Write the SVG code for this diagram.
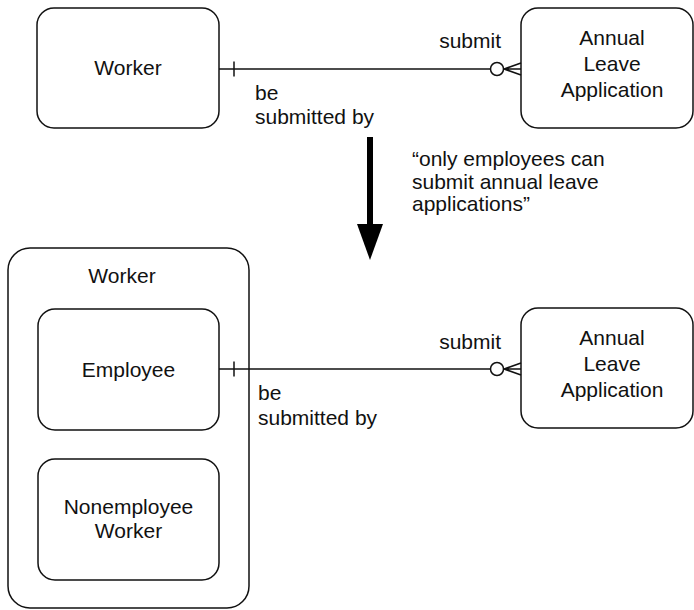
<svg xmlns="http://www.w3.org/2000/svg" width="694" height="610" viewBox="0 0 694 610">
  <style>
    .box { fill: #ffffff; stroke: #111111; stroke-width: 1.5; }
    .link { fill: none; stroke: #111111; stroke-width: 1.5; }
    .lbl { font-family: "Liberation Sans", Arial, Helvetica, sans-serif; font-size: 21px; fill: #111111; }
    .mid { text-anchor: middle; }
    .end { text-anchor: end; }
  </style>
  <rect width="694" height="610" fill="#ffffff"/>

  <!-- upper model: Worker submits Annual Leave Application -->
  <g id="worker-top">
    <rect class="box" x="37" y="8" width="182" height="120" rx="17" ry="17"/>
    <text class="lbl mid" x="128" y="75">Worker</text>
  </g>
  <g id="leave-top">
    <rect class="box" x="521" y="8" width="172" height="120" rx="17" ry="17"/>
    <text class="lbl mid" x="612" y="45">Annual</text>
    <text class="lbl mid" x="612" y="71">Leave</text>
    <text class="lbl mid" x="612" y="97">Application</text>
  </g>

  <!-- transformation arrow and its note -->
  <g id="refinement-arrow">
    <rect x="367" y="137" width="6" height="89" fill="#000000"/>
    <polygon points="357,224 383,224 370,260" fill="#000000"/>
  </g>
  <g id="rule-note">
    <text class="lbl" x="412" y="166">“only employees can</text>
    <text class="lbl" x="412" y="189">submit annual leave</text>
    <text class="lbl" x="412" y="211">applications”</text>
  </g>

  <!-- lower model: Worker subtypes -->
  <g id="worker-bottom">
    <rect class="box" x="8" y="248" width="241" height="360" rx="22" ry="22"/>
    <text class="lbl mid" x="122" y="283">Worker</text>
  </g>
  <g id="employee">
    <rect class="box" x="38" y="309" width="181" height="121" rx="17" ry="17"/>
    <text class="lbl mid" x="128.5" y="377">Employee</text>
  </g>
  <g id="nonemployee">
    <rect class="box" x="38" y="459" width="181" height="121" rx="17" ry="17"/>
    <text class="lbl mid" x="128.5" y="514">Nonemployee</text>
    <text class="lbl mid" x="128.5" y="538">Worker</text>
  </g>
  <g id="leave-bottom">
    <rect class="box" x="521" y="308" width="172" height="120" rx="17" ry="17"/>
    <text class="lbl mid" x="612" y="345">Annual</text>
    <text class="lbl mid" x="612" y="371">Leave</text>
    <text class="lbl mid" x="612" y="397">Application</text>
  </g>

  <!-- relationships: one (bar) to zero-or-many (circle + crow's foot) -->
  <g id="connectors">
    <g id="rel-top">
      <line class="link" x1="219" y1="69" x2="490.5" y2="69"/>
      <line class="link" x1="234" y1="61.5" x2="234" y2="76.5"/>
      <circle class="link" cx="497" cy="69" r="6.5"/>
      <path class="link" d="M504,69 L521,63 M504,69 L521,75 M504,69 L521,69"/>
      <text class="lbl end" x="501" y="48">submit</text>
      <text class="lbl" x="255" y="100">be</text>
      <text class="lbl" x="255" y="124">submitted by</text>
    </g>
    <g id="rel-bottom">
      <line class="link" x1="219" y1="369" x2="490.5" y2="369"/>
      <line class="link" x1="234" y1="361.5" x2="234" y2="376.5"/>
      <circle class="link" cx="497" cy="369" r="6.5"/>
      <path class="link" d="M504,369 L521,363 M504,369 L521,375 M504,369 L521,369"/>
      <text class="lbl end" x="501" y="349">submit</text>
      <text class="lbl" x="258" y="400">be</text>
      <text class="lbl" x="258" y="425">submitted by</text>
    </g>
  </g>
</svg>
